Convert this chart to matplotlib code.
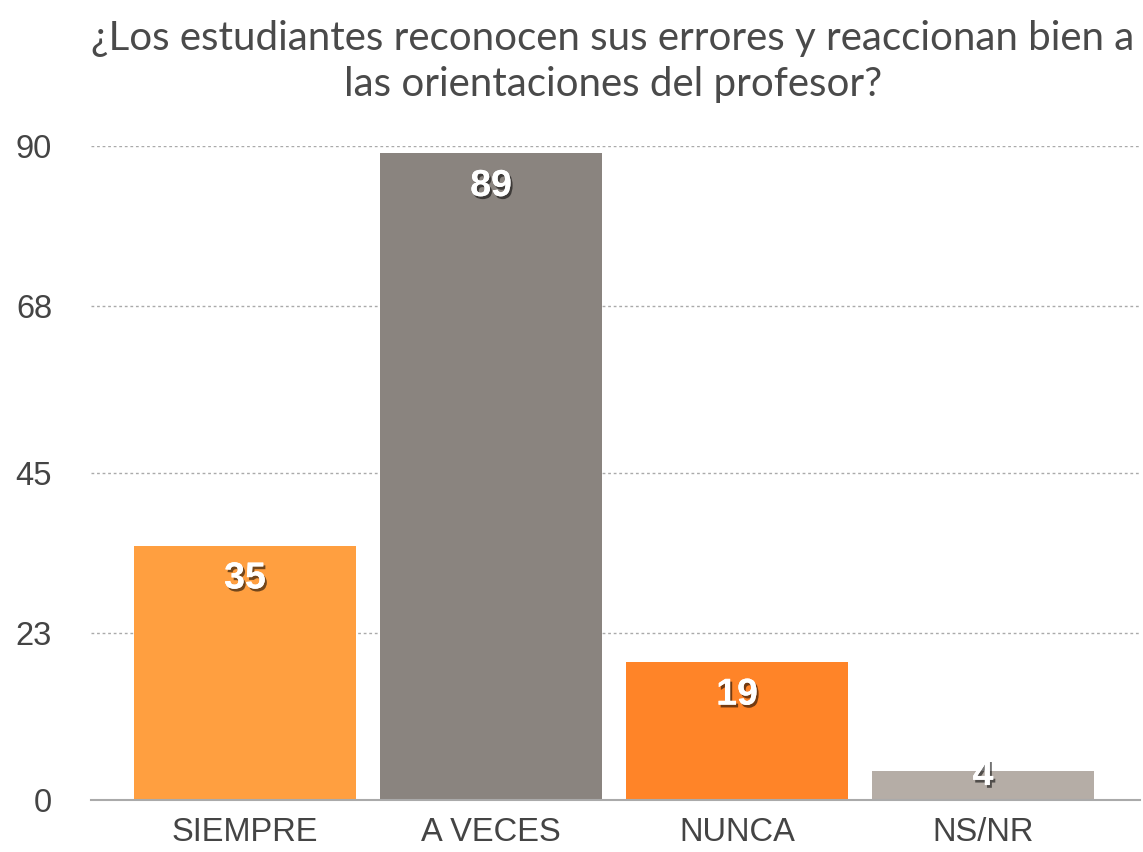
import matplotlib.pyplot as plt
import matplotlib.patheffects as pe

categories = ["SIEMPRE", "A VECES", "NUNCA", "NS/NR"]
values = [35, 89, 19, 4]
colors = ["#FF9F40", "#8A847F", "#FF8428", "#B5ADA6"]
yticks = [0, 23, 45, 68, 90]
title = "¿Los estudiantes reconocen sus errores y reaccionan bien a\nlas orientaciones del profesor?"

fig = plt.figure(figsize=(11.43, 8.52), dpi=100)
ax = fig.add_axes([0.0796, 0.061, 0.9178, 0.7676])

x = range(len(categories))
ax.bar(x, values, width=0.9, color=colors, zorder=3)

ax.set_xlim(-0.626, 3.638)
ax.set_ylim(0, 90)
ax.set_yticks(yticks)
ax.set_xticks(list(x))
ax.set_xticklabels(categories, family="Liberation Sans", fontsize=23.5, color="#444444")
ax.set_yticklabels([str(t) for t in yticks], family="Liberation Sans", fontsize=23.5, color="#444444")
ax.tick_params(length=0)
ax.tick_params(axis="x", pad=12)
ax.tick_params(axis="y", pad=28)

for t in yticks[1:]:
    ax.axhline(t, color="#AAAAAA", lw=1, ls=(0, (2, 2)), zorder=1)
for s in ["top", "right", "left"]:
    ax.spines[s].set_visible(False)
ax.spines["bottom"].set_color("#AAAAAA")
ax.spines["bottom"].set_linewidth(1.5)
ax.spines["bottom"].set_zorder(4)

shadow = [pe.withSimplePatchShadow(offset=(1.5, -2), shadow_rgbFace="black", alpha=0.55), pe.Normal()]
for i, v in enumerate(values):
    y = v - 4.5 if v > 9 else v * 0.86
    ax.text(i, y, str(v), ha="center", va="center", color="white", fontsize=27,
            fontweight="bold", family="Liberation Sans", path_effects=shadow, zorder=5)

fig.text(0.536, 0.928, title, ha="center", va="center", fontsize=29, family="Lato",
         color="#4a4a4a", linespacing=1.3)

fig.savefig("out.png", dpi=100)
